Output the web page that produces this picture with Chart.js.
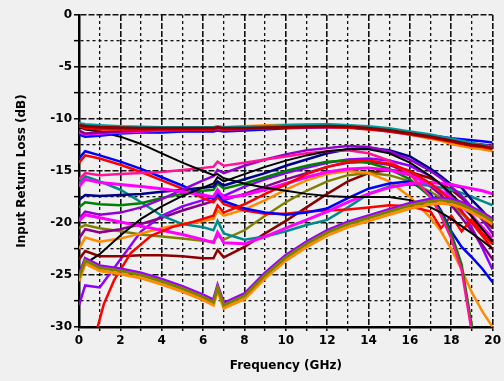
<!DOCTYPE html>
<html>
<head>
<meta charset="utf-8">
<script src="https://cdn.jsdelivr.net/npm/chart.js@4.4.0/dist/chart.umd.min.js"></script>
<style>
  html, body { margin: 0; padding: 0; background: #f0f0f0; }
  #chart { display: block; }
</style>
</head>
<body>
<canvas id="chart" width="504" height="381"></canvas>
<script>
// Frequency points (GHz) shared by most traces
const freqs = [0, 0.3, 1, 2, 3, 4, 5, 6, 6.5, 6.7, 7, 8, 9, 10, 11, 12, 13, 14, 15, 16, 17, 17.5, 18, 18.5, 19, 19.5, 20];

// Top bundle, around -11 dB
const topDarkRed = [-10.6, -10.7, -10.8, -10.85, -10.9, -10.9, -10.9, -10.9, -10.9, -10.8, -10.9, -10.9, -10.85, -10.8, -10.75, -10.7, -10.75, -10.9, -11.1, -11.4, -11.7, -11.9, -12.1, -12.3, -12.5, -12.6, -12.8];
const topTeal = [-10.4, -10.5, -10.6, -10.7, -10.75, -10.8, -10.8, -10.8, -10.8, -10.75, -10.8, -10.75, -10.7, -10.6, -10.55, -10.5, -10.6, -10.7, -10.9, -11.2, -11.5, -11.7, -11.9, -12.1, -12.3, -12.5, -12.7];
const topOrange = [-10.5, -10.7, -10.8, -10.8, -10.8, -10.8, -10.8, -10.8, -10.8, -10.7, -10.8, -10.7, -10.6, -10.55, -10.5, -10.5, -10.6, -10.8, -11.1, -11.5, -11.9, -12.1, -12.4, -12.6, -12.8, -12.9, -13.1];
const topRed = [-10.7, -10.9, -11.0, -11.0, -11.0, -11.0, -11.0, -11.0, -11.0, -10.95, -11.0, -10.95, -10.9, -10.85, -10.8, -10.8, -10.85, -11.0, -11.2, -11.5, -11.8, -12.0, -12.2, -12.4, -12.6, -12.7, -12.9];
const topBlue = [-11.5, -11.7, -11.6, -11.4, -11.3, -11.3, -11.2, -11.2, -11.2, -11.1, -11.2, -11.1, -11.0, -10.9, -10.85, -10.8, -10.8, -10.9, -11.05, -11.3, -11.55, -11.7, -11.85, -11.95, -12.05, -12.15, -12.25];
const topMagenta = [-11.3, -11.5, -11.4, -11.3, -11.2, -11.1, -11.05, -11.0, -11.0, -10.95, -11.0, -10.95, -10.9, -10.8, -10.8, -10.75, -10.8, -10.95, -11.2, -11.5, -11.8, -12.0, -12.15, -12.3, -12.45, -12.55, -12.7];
const topPurple = [-11.1, -11.4, -11.3, -11.2, -11.1, -11.0, -11.0, -11.0, -11.0, -10.95, -11.0, -10.9, -10.85, -10.8, -10.75, -10.75, -10.8, -10.95, -11.15, -11.4, -11.7, -11.9, -12.05, -12.2, -12.35, -12.45, -12.6];

// Middle traces
const blackDown = [-10.8, -11.0, -11.2, -11.7, -12.4, -13.3, -14.2, -15.0, -15.4, -15.3, -15.7, -16.2, -16.6, -16.9, -17.2, -17.4, -17.5, -17.5, -17.5, -17.8, -18.5, -19.0, -19.6, -20.3, -21.0, -21.7, -22.5];
const blackUp = [-24.5, -23.9, -23.0, -21.2, -19.6, -18.4, -17.4, -16.6, -16.2, -15.6, -16.0, -15.3, -14.6, -14.0, -13.5, -13.1, -12.9, -12.9, -13.3, -14.2, -15.5, -16.3, -17.2, -18.2, -19.4, -20.6, -21.8];
const blueDown = [-13.8, -13.1, -13.5, -14.1, -14.8, -15.6, -16.4, -17.3, -17.7, -17.2, -17.9, -18.6, -19.0, -19.2, -19.0, -18.6, -17.6, -16.7, -16.2, -16.0, -17.2, -18.8, -20.8, -22.3, -23.3, -24.4, -25.7];
const redDown = [-14.2, -13.5, -13.8, -14.4, -15.1, -15.9, -16.7, -17.6, -18.0, -17.5, -18.2, -18.8, -19.1, -19.1, -18.9, -18.8, -18.7, -18.5, -18.3, -18.4, -18.9, -20.5, -19.3, -20.8, -19.6, -21.0, -22.0];
const hotPink = [-15.8, -15.2, -15.4, -15.3, -15.2, -15.1, -14.9, -14.7, -14.6, -14.1, -14.5, -14.2, -13.9, -13.6, -13.3, -13.1, -13.0, -13.3, -14.0, -15.3, -17.5, -19.3, -21.5, -24.5, -30.6, null, null];
const green = [-18.5, -18.0, -18.2, -18.3, -18.1, -17.6, -17.2, -16.9, -16.8, -16.2, -16.7, -16.2, -15.6, -15.0, -14.5, -14.1, -14.0, -14.2, -14.8, -15.8, -17.5, -19.0, -21.0, -24.0, -30.0, null, null];
const navy = [-17.8, -17.3, -17.4, -17.3, -17.2, -17.0, -16.8, -16.6, -16.5, -16.0, -16.4, -15.8, -15.2, -14.5, -13.9, -13.3, -12.9, -12.8, -13.0, -13.6, -14.8, -15.5, -16.3, -16.6, -17.8, -18.8, -20.0];
const purple = [-19.6, -18.9, -19.2, -19.0, -18.5, -17.7, -16.8, -15.9, -15.5, -14.9, -15.2, -14.5, -13.9, -13.4, -13.0, -12.8, -12.6, -12.7, -13.1, -13.9, -15.0, -15.7, -16.5, -17.4, -18.5, -19.7, -21.0];
const magentaHigh = [-16.5, -15.8, -16.1, -16.3, -16.5, -16.7, -17.0, -17.3, -17.5, -16.8, -17.6, -17.3, -16.8, -16.2, -15.6, -15.1, -14.8, -14.7, -14.9, -15.4, -16.3, -16.9, -17.6, -18.4, -19.3, -20.4, -21.5];
const teal = [-16.2, -15.5, -16.0, -16.8, -18.0, -19.3, -20.1, -20.4, -20.7, -19.8, -21.0, -21.6, -21.3, -20.8, -20.2, -19.7, -18.5, -17.2, -16.5, -16.3, -16.4, -16.6, -16.8, -17.1, -17.5, -17.9, -18.3];
const magentaLow = [-19.8, -19.2, -19.5, -19.9, -20.3, -20.7, -21.1, -21.6, -21.9, -20.9, -21.9, -22.0, -21.3, -20.5, -19.7, -18.9, -18.0, -17.2, -16.6, -16.2, -16.1, -16.2, -16.3, -16.5, -16.7, -16.9, -17.2];
const orchid = [-21.5, -20.6, -20.9, -20.6, -20.1, -19.5, -18.8, -18.2, -17.9, -17.3, -17.8, -17.2, -16.5, -15.8, -15.2, -14.6, -14.2, -14.1, -14.4, -15.2, -16.5, -17.3, -18.3, -19.5, -20.8, -22.1, -23.5];
const orange = [-22.5, -21.4, -21.8, -21.5, -21.0, -20.5, -20.1, -19.8, -19.6, -18.8, -19.3, -18.7, -17.8, -16.8, -15.9, -15.3, -15.0, -15.2, -16.0, -17.5, -19.5, -20.8, -22.5, -24.5, -26.7, -28.5, -30.0];
const olive = [-20.5, -20.2, -20.5, -20.8, -21.1, -21.3, -21.5, -21.7, -21.8, -21.2, -21.6, -20.7, -19.3, -18.0, -16.9, -16.0, -15.4, -15.2, -15.4, -16.0, -17.0, -17.6, -18.3, -19.1, -20.0, -21.0, -22.0];
const darkRed = [-23.5, -22.7, -23.2, -23.2, -23.1, -23.1, -23.2, -23.4, -23.4, -22.6, -23.3, -22.3, -21.0, -19.8, -18.5, -17.2, -16.0, -15.2, -14.9, -15.1, -15.7, -16.2, -16.8, -17.6, -18.5, -19.5, -20.5];
const violet = [-27.9, -26.0, -26.2, -23.5, -20.8, -19.3, -18.4, -17.8, -17.5, -17.0, -17.4, -16.5, -15.8, -15.2, -14.7, -14.2, -13.9, -13.8, -14.0, -14.5, -15.5, -16.3, -17.5, -18.8, -20.5, -22.4, -24.5];

// Red trace entering from the bottom edge
const redUpFreqs = [0.9, 1.2, 1.7, 2.5, 3.5, 4.5, 5.5, 6.5, 6.7, 7, 8, 9, 10, 11, 12, 13, 14, 15, 16, 17, 18, 19, 20];
const redUp = [-30, -27.8, -25.5, -22.9, -21.2, -20.4, -19.9, -19.3, -18.3, -19.0, -18.2, -17.2, -16.3, -15.3, -14.6, -14.1, -14.0, -14.3, -15.0, -16.2, -17.8, -20.0, -22.5];

// Bottom bundle with the dip near 7 GHz
const bottomOlive = [-25.3, -23.6, -24.3, -24.6, -25.0, -25.6, -26.3, -27.1, -27.6, -26.2, -27.9, -27.0, -25.0, -23.3, -22.0, -20.9, -20.1, -19.5, -18.9, -18.3, -17.9, -17.8, -17.9, -18.2, -18.7, -19.2, -19.8];
const bottomPurple = [-25.0, -23.4, -24.1, -24.4, -24.8, -25.4, -26.1, -26.9, -27.4, -26.0, -27.7, -26.8, -24.8, -23.1, -21.8, -20.7, -19.9, -19.3, -18.7, -18.1, -17.7, -17.6, -17.7, -18.0, -18.5, -19.0, -19.6];
const bottomOrange = [-25.6, -23.9, -24.6, -24.9, -25.3, -25.9, -26.6, -27.4, -27.9, -26.5, -28.2, -27.3, -25.3, -23.6, -22.3, -21.2, -20.4, -19.8, -19.2, -18.6, -18.2, -18.1, -18.2, -18.5, -19.0, -19.5, -20.1];

const xTicks = [0, 2, 4, 6, 8, 10, 12, 14, 16, 18, 20];
const yTicks = [0, -5, -10, -15, -20, -25, -30];

// first entry ends up on top
const traces = [
    [topDarkRed, '#8b0000', 3],
    [topTeal, '#009999', 2.5],
    [topRed, '#ff0000', 2.5],
    [topOrange, '#ff8c00', 2.5],
    [topPurple, '#8b008b', 2.5],
    [topMagenta, '#ff00ff', 2.5],
    [topBlue, '#0000ff', 2.5],
    [bottomOlive, '#808000', 3],
    [bottomPurple, '#9900ff', 3],
    [bottomOrange, '#ff8c00', 3],
    [blackDown, '#000000', 2],
    [blackUp, '#000000', 2],
    [hotPink, '#ff1493', 2.5],
    [magentaHigh, '#ff00ff', 3],
    [magentaLow, '#ff00ff', 3],
    [purple, '#9400d3', 2.5],
    [navy, '#00008b', 2.5],
    [green, '#008000', 2.5],
    [blueDown, '#0000ff', 2.5],
    [redDown, '#ff0000', 2.5],
    [teal, '#008b8b', 2.5],
    [orchid, '#8b008b', 2.5],
    [orange, '#ff8c00', 2.5],
    [olive, '#808000', 2.5],
    [darkRed, '#8b0000', 2.5],
    [violet, '#8f00ff', 2.5]
];

const datasets = traces.map(([vals, color, w]) => ({
    data: freqs.map((f, i) => ({ x: f, y: vals[i] })),
    borderColor: color,
    borderWidth: w,
    pointRadius: 0,
    tension: 0,
    spanGaps: false,
    fill: false
}));

datasets.splice(11, 0, {
    data: redUpFreqs.map((f, i) => ({ x: f, y: redUp[i] })),
    borderColor: '#ff0000',
    borderWidth: 2.5,
    pointRadius: 0,
    tension: 0,
    fill: false
});

const axisFont = { family: '"DejaVu Sans", sans-serif', size: 12, weight: 'bold' };

new Chart(document.getElementById('chart'), {
    type: 'line',
    data: { datasets },
    options: {
        responsive: false,
        animation: false,
        layout: { padding: { top: 15, right: 7, left: 0, bottom: 0 } },
        plugins: { legend: { display: false }, tooltip: { enabled: false } },
        scales: {
            x: {
                type: 'linear',
                min: 0,
                max: 20,
                afterFit: (scale) => { scale.height = 54; },
                ticks: {
                    stepSize: 1,
                    autoSkip: false,
                    maxRotation: 0,
                    padding: 3,
                    color: '#000',
                    font: axisFont,
                    callback: (v) => xTicks.includes(v) ? v : ''
                },
                grid: {
                    color: '#111',
                    lineWidth: (ctx) => (ctx.tick && ctx.tick.value % 2 === 0) ? 1.6 : 1.3,
                    tickLength: 4,
                    tickWidth: 1.5,
                    tickColor: '#000'
                },
                border: {
                    color: '#000',
                    width: 2.5,
                    dash: (ctx) => ctx.tick ? (ctx.tick.value % 2 === 0 ? [6, 2] : [3, 3]) : []
                },
                title: {
                    display: true,
                    text: 'Frequency (GHz)',
                    color: '#000',
                    font: axisFont,
                    padding: { top: 4, bottom: 8 }
                }
            },
            y: {
                min: -30,
                max: 0,
                afterFit: (scale) => { scale.width = 79; },
                ticks: {
                    stepSize: 2.5,
                    autoSkip: false,
                    padding: 2,
                    color: '#000',
                    font: axisFont,
                    callback: (v) => yTicks.includes(v) ? v : ''
                },
                grid: {
                    color: '#111',
                    lineWidth: (ctx) => (ctx.tick && ctx.tick.value % 5 === 0) ? 1.6 : 1.3,
                    tickLength: 5,
                    tickWidth: 1.5,
                    tickColor: '#000'
                },
                border: {
                    color: '#000',
                    width: 2.5,
                    dash: (ctx) => ctx.tick ? (ctx.tick.value % 5 === 0 ? [6, 2] : [3, 3]) : []
                },
                title: {
                    display: true,
                    text: 'Input Return Loss (dB)',
                    color: '#000',
                    font: axisFont,
                    padding: { top: 15, bottom: 4 }
                }
            }
        }
    }
});
</script>
</body>
</html>
